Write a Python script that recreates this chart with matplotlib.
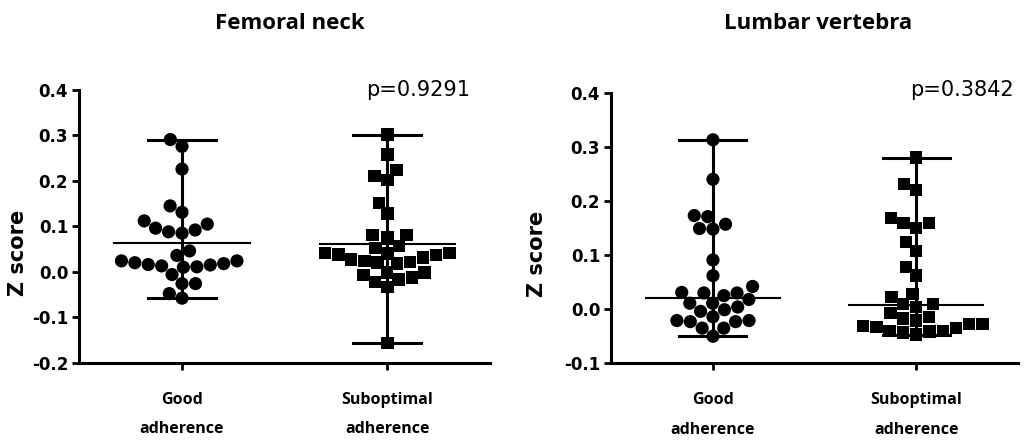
import numpy as np
import matplotlib
matplotlib.use("Agg")
import matplotlib.pyplot as plt

# ====== DATA ======
groups = ["Good\nadherence", "Suboptimal\nadherence"]

femoral_good = [0.291, 0.276, 0.226, 0.145, 0.131, 0.112, 0.105, 0.096, 0.092,
                0.088, 0.085, 0.046, 0.036, 0.024, 0.020, 0.016, 0.013, 0.010,
                0.011, 0.015, 0.018, 0.024, -0.006, -0.026, -0.026, -0.048, -0.058]
femoral_subopt = [0.302, 0.258, 0.224, 0.211, 0.202, 0.151, 0.128, 0.081, 0.081,
                  0.077, 0.057, 0.052, 0.041, 0.040, 0.037, 0.027, 0.022, 0.018,
                  0.020, 0.024, 0.031, 0.038, 0.041, -0.002, -0.013, -0.022,
                  -0.034, -0.017, -0.007, -0.002, -0.157]

lumbar_good = [0.313, 0.240, 0.173, 0.171, 0.157, 0.149, 0.148, 0.091, 0.062,
               0.042, 0.030, 0.025, 0.030, 0.031, 0.018, 0.011, 0.011, 0.004,
               -0.004, -0.001, -0.014, -0.021, -0.023, -0.023, -0.021, -0.035,
               -0.035, -0.050]
lumbar_subopt = [0.280, 0.231, 0.220, 0.169, 0.159, 0.159, 0.150, 0.124, 0.108,
                 0.078, 0.062, 0.028, 0.023, 0.010, 0.004, 0.010, -0.007, -0.014,
                 -0.017, -0.021, -0.027, -0.033, -0.040, -0.041, -0.047, -0.043,
                 -0.040, -0.035, -0.031, -0.027]

titles = ["Femoral neck", "Lumbar vertebra"]
p_values = ["p=0.9291", "p=0.3842"]
y_ticks = [[-0.2, -0.1, 0.0, 0.1, 0.2, 0.3, 0.4],
           [-0.1, 0.0, 0.1, 0.2, 0.3, 0.4]]
# left panel draws the mean, right panel the median (as in the source figure)
center_stat = [np.mean, np.median]


def swarm_offsets(vals, ax, diam):
    """Simple beeswarm in pixel space, lowest values placed first (centre)."""
    vals = np.asarray(vals, dtype=float)
    p0 = ax.transData.transform((0, 0))
    p1 = ax.transData.transform((1, 1))
    sx, sy = p1[0] - p0[0], p1[1] - p0[1]
    ypx = vals * sy
    placed = []  # (x_px, y_px)
    offs = np.zeros(len(vals))
    for i in np.argsort(vals, kind="stable"):
        y = ypx[i]
        near = [(px, py) for px, py in placed if abs(py - y) < diam]
        cands = [0.0]
        for px, py in near:
            dx = np.sqrt(diam ** 2 - (py - y) ** 2)
            cands += [px + dx, px - dx]
        cands.sort(key=lambda c: (abs(c), c))
        for c in cands:
            if all((c - px) ** 2 + (y - py) ** 2 >= diam ** 2 - 1e-6 for px, py in near):
                offs[i] = c / sx
                placed.append((c, y))
                break
    return offs


fig = plt.figure(figsize=(10.24, 4.43), dpi=100)
axes = [fig.add_axes([0.0775, 0.1813, 0.401, 0.6155]),
        fig.add_axes([0.597, 0.1799, 0.397, 0.6108])]

panels = [(femoral_good, femoral_subopt), (lumbar_good, lumbar_subopt)]
markers = ["o", "s"]
marker_sizes = [90, 80]

for k, ax in enumerate(axes):
    ax.set_xlim(-0.5, 1.5)
    ax.set_ylim(y_ticks[k][0], y_ticks[k][-1])
    for g, vals in enumerate(panels[k]):
        vals = np.asarray(vals)
        xs = g + swarm_offsets(vals, ax, 13.5)
        ax.scatter(xs, vals, s=marker_sizes[g], marker=markers[g], color="black",
                   edgecolors="none", zorder=3, clip_on=False)
        lo, hi, c = vals.min(), vals.max(), center_stat[k](vals)
        ax.plot([g, g], [lo, hi], color="black", lw=2.2, zorder=2)
        ax.plot([g - 0.165, g + 0.165], [lo, lo], color="black", lw=2.2, zorder=2)
        ax.plot([g - 0.165, g + 0.165], [hi, hi], color="black", lw=2.2, zorder=2)
        ax.plot([g - 0.33, g + 0.33], [c, c], color="black", lw=1.5, zorder=2)

    ax.set_yticks(y_ticks[k])
    ax.set_yticklabels([f"{v:.1f}" for v in y_ticks[k]], fontsize=12, fontweight="bold")
    ax.set_xticks([0, 1])
    ax.set_xticklabels(groups, family="Open Sans", fontsize=11.5, fontweight="bold",
                       linespacing=2.1)
    for side in ["top", "right"]:
        ax.spines[side].set_visible(False)
    for side in ["left", "bottom"]:
        ax.spines[side].set_linewidth(2.2)
    ax.tick_params(axis="y", length=5, width=2, pad=3)
    ax.tick_params(axis="x", length=5, width=2, pad=16)

fig.text(0.283, 0.948, titles[0], family="Open Sans", fontsize=16, fontweight="bold",
         ha="center", va="center")
fig.text(0.799, 0.948, titles[1], family="Open Sans", fontsize=16, fontweight="bold",
         ha="center", va="center")
fig.text(0.358, 0.797, p_values[0], fontsize=15, ha="left", va="center")
fig.text(0.889, 0.797, p_values[1], fontsize=15, ha="left", va="center")
fig.text(0.018, 0.43, "Z score", fontsize=15, fontweight="bold", rotation=90,
         ha="center", va="center")
fig.text(0.524, 0.426, "Z score", fontsize=15, fontweight="bold", rotation=90,
         ha="center", va="center")

fig.savefig("out.png", dpi=100, facecolor="white")
